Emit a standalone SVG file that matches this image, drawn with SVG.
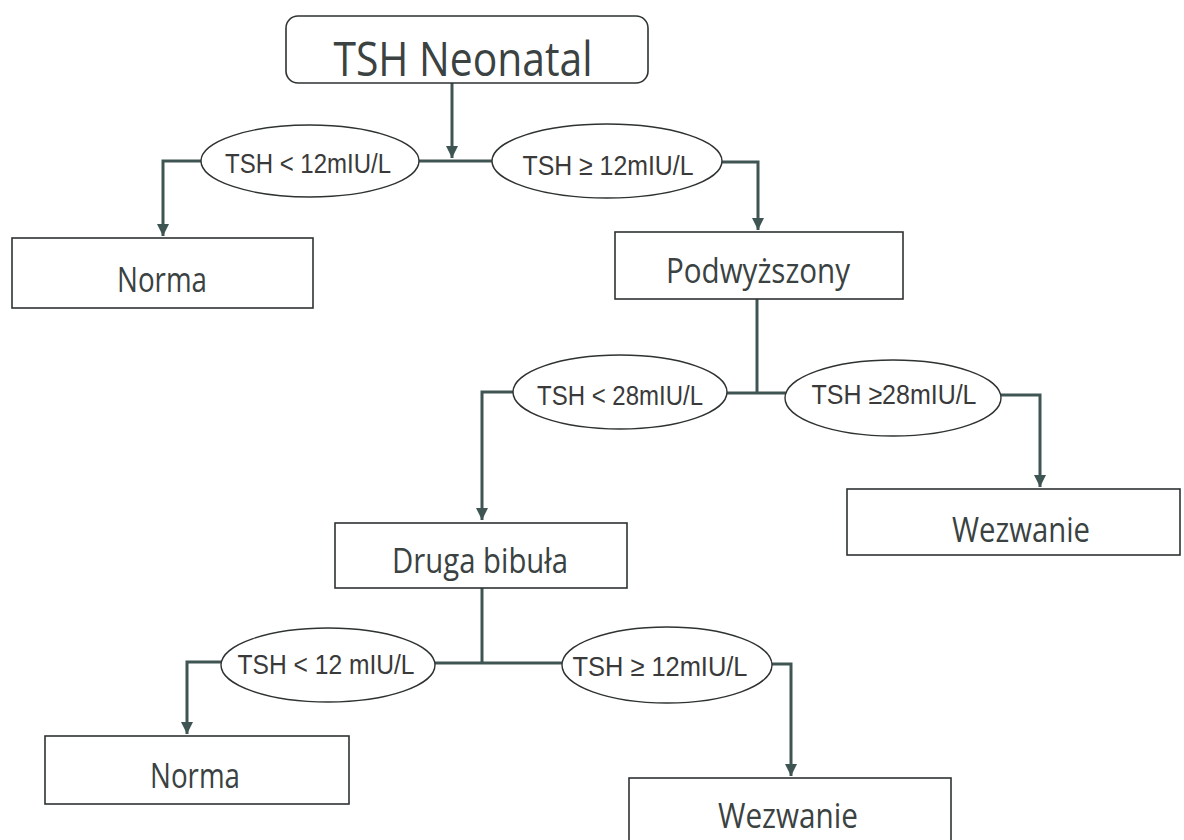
<svg xmlns="http://www.w3.org/2000/svg" width="1184" height="840" viewBox="0 0 1184 840">
<style>
.box{fill:#fff;stroke:#2e3232;stroke-width:1.6}
.ell{fill:#fff;stroke:#2e3232;stroke-width:1.4}
.conn{fill:none;stroke:#3e5553;stroke-width:3}
.bt{font-family:"Open Sans","Noto Sans",sans-serif;font-size:34px;fill:#3a4242;text-anchor:middle}
.et{font-family:"Liberation Sans",Arial,sans-serif;font-size:28px;fill:#3a3a3a;text-anchor:middle}
</style>
<defs>
<marker id="ah" markerUnits="userSpaceOnUse" markerWidth="14" markerHeight="14" refX="12" refY="6" orient="auto">
<path d="M0,0 L12,6 L0,12 Z" fill="#3e5553"/>
</marker>
</defs>
<rect width="1184" height="840" fill="#fff"/>
<g id="connectors">
<path class="conn" d="M452,83 V158" marker-end="url(#ah)"/>
<path class="conn" d="M418,161 H492"/>
<path class="conn" d="M201,161 H163 V236" marker-end="url(#ah)"/>
<path class="conn" d="M722,162 H758 V230" marker-end="url(#ah)"/>
<path class="conn" d="M757,299 V393"/>
<path class="conn" d="M727,393 H786"/>
<path class="conn" d="M513,392 H482 V520" marker-end="url(#ah)"/>
<path class="conn" d="M1001,395 H1040 V487" marker-end="url(#ah)"/>
<path class="conn" d="M482,588 V663"/>
<path class="conn" d="M435,663 H562"/>
<path class="conn" d="M222,662 H187 V734" marker-end="url(#ah)"/>
<path class="conn" d="M772,664 H791 V776" marker-end="url(#ah)"/>
</g>
<g id="n-tsh">
<rect class="box" x="286" y="16" width="362" height="67" rx="12"/>
<text class="bt" x="463" y="76" style="font-size:48px" textLength="259" lengthAdjust="spacingAndGlyphs">TSH Neonatal</text>
</g>
<g id="e1">
<ellipse class="ell" cx="310" cy="161" rx="109" ry="36"/>
<text class="et" x="308" y="173" textLength="166" lengthAdjust="spacingAndGlyphs">TSH &lt; 12mIU/L</text>
</g>
<g id="e2">
<ellipse class="ell" cx="607" cy="161" rx="115" ry="37"/>
<text class="et" x="608" y="175" textLength="171" lengthAdjust="spacingAndGlyphs">TSH  ≥ 12mIU/L</text>
</g>
<g id="n-norma1">
<rect class="box" x="12" y="238" width="301" height="70"/>
<text class="bt" x="162" y="292" textLength="90" lengthAdjust="spacingAndGlyphs">Norma</text>
</g>
<g id="n-podw">
<rect class="box" x="615" y="232" width="288" height="67"/>
<text class="bt" x="758" y="283" textLength="184" lengthAdjust="spacingAndGlyphs">Podwyższony</text>
</g>
<g id="e3">
<ellipse class="ell" cx="620" cy="392" rx="107" ry="37"/>
<text class="et" x="620" y="405" textLength="166" lengthAdjust="spacingAndGlyphs">TSH &lt; 28mIU/L</text>
</g>
<g id="e4">
<ellipse class="ell" cx="893" cy="398" rx="108" ry="38"/>
<text class="et" x="894" y="404" textLength="165" lengthAdjust="spacingAndGlyphs">TSH ≥28mIU/L</text>
</g>
<g id="n-wez1">
<rect class="box" x="847" y="489" width="333" height="66"/>
<text class="bt" x="1021" y="542" textLength="138" lengthAdjust="spacingAndGlyphs">Wezwanie</text>
</g>
<g id="n-druga">
<rect class="box" x="335" y="523" width="292" height="65"/>
<text class="bt" x="480" y="573" textLength="176" lengthAdjust="spacingAndGlyphs">Druga bibuła</text>
</g>
<g id="e5">
<ellipse class="ell" cx="328" cy="665" rx="107" ry="37"/>
<text class="et" x="326" y="674" textLength="177" lengthAdjust="spacingAndGlyphs">TSH &lt; 12 mIU/L</text>
</g>
<g id="e6">
<ellipse class="ell" cx="667" cy="665" rx="105" ry="38"/>
<text class="et" x="660" y="676" textLength="175" lengthAdjust="spacingAndGlyphs">TSH ≥ 12mIU/L</text>
</g>
<g id="n-norma2">
<rect class="box" x="45" y="736" width="304" height="68"/>
<text class="bt" x="195" y="788" textLength="90" lengthAdjust="spacingAndGlyphs">Norma</text>
</g>
<g id="n-wez2">
<rect class="box" x="629" y="778" width="322" height="72"/>
<text class="bt" x="788" y="828" textLength="140" lengthAdjust="spacingAndGlyphs">Wezwanie</text>
</g>
</svg>
